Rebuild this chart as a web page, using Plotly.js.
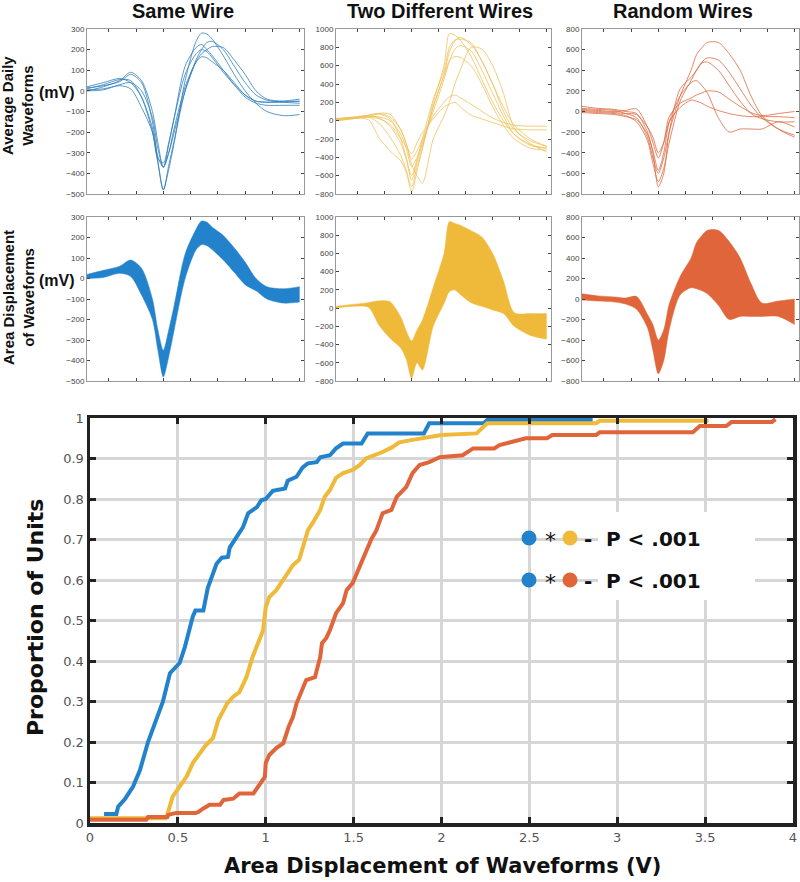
<!DOCTYPE html>
<html>
<head>
<meta charset="utf-8">
<script src="https://cdn.plot.ly/plotly-3.0.1.min.js"></script>
<style>
  body { margin: 0; background: white; }
  #fig { width: 800px; height: 882px; }
</style>
</head>
<body>
<div id="fig"></div>
<script>
// sample positions of the averaged waveforms
var wfX = [1, 4, 7, 9, 11, 13, 14, 15, 16, 17, 19, 21, 22, 23, 24, 26, 28, 30, 32, 34, 37, 40];

// Same Wire (mV)
var sameWire = [
  [10, 30, 55, 50, -30, -200, -350, -480, -380, -250, 50, 240, 280, 275, 250, 170, 80, 0, -60, -100, -120, -115],
  [0, 20, 50, 90, 50, -100, -250, -370, -300, -180, 20, 140, 165, 160, 140, 100, 40, -20, -50, -55, -55, -50],
  [15, 25, 45, 80, 40, -150, -340, -480, -360, -240, 0, 150, 200, 235, 240, 200, 120, 40, -20, -45, -55, -60],
  [20, 40, 60, 40, -30, -180, -320, -370, -260, -130, 120, 210, 225, 200, 170, 100, 30, -30, -60, -70, -70, -70],
  [5, 10, 25, 10, -80, -200, -330, -350, -250, -130, 80, 180, 200, 190, 160, 90, 30, -20, -50, -55, -50, -40],
  [0, 5, 30, 40, 0, -130, -280, -370, -300, -200, 0, 140, 180, 200, 215, 210, 150, 80, 0, -40, -50, -50]
];

// Two Different Wires (mV)
var twoWires = [
  [20, 30, 10, -190, -330, -440, -560, -770, -550, -300, 200, 600, 950, 930, 880, 700, 450, 200, 0, -150, -260, -300],
  [10, 30, 50, 40, 0, -150, -300, -500, -400, -250, 150, 500, 750, 870, 910, 830, 650, 400, 150, -50, -200, -280],
  [0, 20, 40, 80, 70, -100, -250, -480, -600, -680, -200, 50, 200, 400, 550, 800, 780, 600, 300, -80, -250, -340],
  [20, 35, 50, 30, -60, -250, -420, -650, -450, -250, 100, 450, 650, 780, 820, 760, 550, 300, 50, -150, -270, -300],
  [15, 30, 40, -30, -180, -380, -540, -720, -500, -300, 150, 500, 650, 700, 690, 600, 400, 150, -50, -200, -300, -320],
  [0, 20, 60, 80, 40, -100, -250, -420, -330, -200, 50, 200, 260, 280, 250, 180, 100, 30, -20, -50, -60, -60],
  [10, 25, 40, 20, -40, -200, -280, -360, -240, -130, 20, 150, 180, 200, 150, 60, 20, -20, -60, -90, -100, -100],
  [20, 40, 60, 70, 20, -200, -400, -600, -420, -200, 230, 550, 800, 880, 890, 850, 650, 400, 100, -100, -220, -280]
];

// Random Wires (mV)
var randomWires = [
  [30, 20, 10, -20, -60, -250, -450, -600, -450, -200, 150, 400, 550, 620, 670, 670, 560, 400, 150, -40, -170, -250],
  [0, -10, -20, -40, -100, -280, -500, -680, -550, -300, 100, 300, 400, 480, 520, 500, 380, 220, 60, -60, -170, -230],
  [50, 30, 20, 0, -20, -200, -400, -730, -600, -200, 220, 330, 400, 470, 480, 400, 250, 100, -20, -70, -100, -100],
  [-10, -20, -30, -50, -80, -220, -380, -570, -400, -100, 150, 280, 300, 250, 180, -60, -200, -170, -170, -170, -100, -150],
  [20, 10, 0, 10, 25, -150, -300, -450, -300, -50, 80, 130, 160, 180, 200, 190, 120, 50, -10, -40, -20, 0],
  [10, 0, -10, -20, -30, -150, -250, -400, -300, -100, 40, 110, 100, 80, 50, 10, -20, -40, -50, -50, -50, -60]
];

// cumulative distributions of area displacement (V)
var cdfSameX = [0.08, 0.15, 0.16, 0.2, 0.245, 0.284, 0.33, 0.38, 0.415, 0.455, 0.51, 0.54, 0.585, 0.6, 0.645, 0.67, 0.70, 0.72, 0.75, 0.785, 0.795, 0.835, 0.87, 0.9, 0.95, 0.975, 1.0, 1.04, 1.11, 1.125, 1.175, 1.21, 1.24, 1.29, 1.31, 1.365, 1.4, 1.44, 1.545, 1.58, 1.9, 1.93, 2.24, 2.26, 2.86];
var cdfSameY = [0.022, 0.022, 0.04, 0.06, 0.09, 0.13, 0.2, 0.26, 0.30, 0.37, 0.395, 0.435, 0.51, 0.525, 0.525, 0.58, 0.62, 0.64, 0.655, 0.657, 0.68, 0.705, 0.73, 0.765, 0.78, 0.797, 0.80, 0.82, 0.826, 0.845, 0.855, 0.878, 0.888, 0.891, 0.903, 0.908, 0.925, 0.937, 0.937, 0.962, 0.962, 0.987, 0.987, 0.995, 0.995];
var cdfTwoX = [0, 0.43, 0.44, 0.47, 0.51, 0.55, 0.585, 0.625, 0.655, 0.70, 0.73, 0.78, 0.815, 0.85, 0.89, 0.925, 0.965, 0.985, 1.0, 1.02, 1.06, 1.10, 1.135, 1.155, 1.19, 1.22, 1.24, 1.27, 1.31, 1.335, 1.365, 1.40, 1.44, 1.495, 1.535, 1.57, 1.665, 1.72, 1.76, 1.835, 1.95, 2.0, 2.2, 2.235, 2.26, 2.88, 2.9, 3.52];
var cdfTwoY = [0.012, 0.012, 0.02, 0.065, 0.09, 0.115, 0.148, 0.172, 0.19, 0.21, 0.254, 0.295, 0.312, 0.323, 0.36, 0.41, 0.45, 0.476, 0.533, 0.558, 0.575, 0.60, 0.625, 0.637, 0.65, 0.69, 0.723, 0.743, 0.773, 0.805, 0.822, 0.852, 0.864, 0.872, 0.884, 0.90, 0.916, 0.928, 0.94, 0.946, 0.953, 0.958, 0.962, 0.978, 0.987, 0.987, 0.993, 0.993];
var cdfRandX = [0, 0.32, 0.33, 0.44, 0.445, 0.49, 0.6, 0.615, 0.645, 0.68, 0.74, 0.76, 0.815, 0.85, 0.93, 0.955, 0.995, 1.0, 1.02, 1.06, 1.10, 1.13, 1.155, 1.175, 1.205, 1.23, 1.28, 1.31, 1.32, 1.345, 1.365, 1.40, 1.44, 1.46, 1.495, 1.535, 1.57, 1.60, 1.63, 1.665, 1.715, 1.745, 1.8, 1.835, 1.875, 1.93, 1.99, 2.12, 2.18, 2.3, 2.33, 2.39, 2.48, 2.6, 2.63, 2.88, 2.9, 3.43, 3.47, 3.62, 3.65, 3.88, 3.9];
var cdfRandY = [0.008, 0.008, 0.015, 0.015, 0.02, 0.025, 0.025, 0.027, 0.036, 0.045, 0.045, 0.057, 0.06, 0.073, 0.073, 0.089, 0.114, 0.148, 0.168, 0.185, 0.197, 0.237, 0.262, 0.295, 0.328, 0.353, 0.36, 0.41, 0.444, 0.457, 0.476, 0.518, 0.543, 0.575, 0.593, 0.632, 0.667, 0.70, 0.723, 0.765, 0.773, 0.805, 0.83, 0.864, 0.884, 0.891, 0.903, 0.908, 0.925, 0.925, 0.933, 0.94, 0.95, 0.95, 0.958, 0.958, 0.965, 0.965, 0.98, 0.98, 0.99, 0.99, 0.997];

var panelTitles = ['Same Wire', 'Two Different Wires', 'Random Wires'];
var blue = '#2382cc', yellow = '#efb93a', orange = '#e0653a';

// pixel -> paper helpers
function px(x) { return x / 800; }
function py(y) { return 1 - y / 882; }

var panels = [
  {data: sameWire, color: blue, thin: '#2f7fbc', range: [-500, 300], dtick: 100, col: [87, 304], title: 183},
  {data: twoWires, color: yellow, thin: '#efc15c', range: [-800, 1000], dtick: 200, col: [336, 551], title: 440},
  {data: randomWires, color: orange, thin: '#db6a40', range: [-800, 800], dtick: 200, col: [582, 799], title: 683}
];

var traces = [];
var layout = {
  width: 800, height: 882,
  margin: {l: 0, r: 0, t: 0, b: 0},
  paper_bgcolor: 'white', plot_bgcolor: 'white',
  showlegend: false,
  font: {family: 'Liberation Sans, Arial, sans-serif'},
  annotations: [], shapes: []
};

function smallX(dom, anchor) {
  return {domain: dom, anchor: anchor, range: [1, 40.8], tick0: 0, dtick: 5,
    showticklabels: false, ticks: 'inside', ticklen: 3, tickcolor: '#444',
    showline: true, linecolor: '#999', linewidth: 1, mirror: 'ticks',
    showgrid: false, zeroline: false};
}
function smallY(dom, anchor, p) {
  return {domain: dom, anchor: anchor, range: p.range, dtick: p.dtick,
    ticks: 'inside', ticklen: 3, tickcolor: '#444',
    tickfont: {size: 8, color: '#444', family: 'Liberation Sans, Arial'},
    showline: true, linecolor: '#999', linewidth: 1, mirror: 'ticks',
    showgrid: false, zeroline: false};
}

var rowTop = [py(194), py(29)];
var rowMid = [py(381), py(217)];

panels.forEach(function (p, i) {
  var nTop = i + 1, nMid = i + 4;
  var sfx = nTop === 1 ? '' : nTop;
  var xd = [px(p.col[0]), px(p.col[1])];
  layout['xaxis' + sfx] = smallX(xd, 'y' + sfx);
  layout['yaxis' + sfx] = smallY(rowTop, 'x' + sfx, p);
  layout['xaxis' + nMid] = smallX(xd, 'y' + nMid);
  layout['yaxis' + nMid] = smallY(rowMid, 'x' + nMid, p);

  // individual daily waveforms
  p.data.forEach(function (w) {
    traces.push({x: wfX, y: w, type: 'scatter', mode: 'lines',
      line: {color: p.thin, width: 0.8, shape: 'spline', smoothing: 0.8},
      xaxis: 'x' + sfx, yaxis: 'y' + sfx});
  });

  // envelope band of those waveforms
  var lo = wfX.map(function (_, k) { return Math.min.apply(null, p.data.map(function (r) { return r[k]; })); });
  var hi = wfX.map(function (_, k) { return Math.max.apply(null, p.data.map(function (r) { return r[k]; })); });
  traces.push({x: wfX, y: lo, type: 'scatter', mode: 'lines',
    line: {color: p.color, width: 0.5, shape: 'spline', smoothing: 0.8},
    xaxis: 'x' + nMid, yaxis: 'y' + nMid});
  traces.push({x: wfX, y: hi, type: 'scatter', mode: 'lines', fill: 'tonexty', fillcolor: p.color,
    line: {color: p.color, width: 0.5, shape: 'spline', smoothing: 0.8},
    xaxis: 'x' + nMid, yaxis: 'y' + nMid});

  layout.annotations.push({text: '<b>' + panelTitles[i] + '</b>', xref: 'paper', yref: 'paper',
    x: px(p.title), y: py(11), xanchor: 'center', yanchor: 'middle', showarrow: false,
    font: {size: 20, color: '#111', family: 'Liberation Sans, Arial'}});
});

// bottom CDF plot
layout.xaxis7 = {domain: [px(90), px(793)], anchor: 'y7', range: [0, 4], dtick: 0.5,
  ticks: 'inside', ticklen: 6, tickwidth: 3, tickcolor: '#222',
  showline: true, linecolor: '#222', linewidth: 3.5, mirror: 'ticks',
  showgrid: true, gridcolor: '#d6d6d6', gridwidth: 3, zeroline: false,
  tickfont: {family: 'DejaVu Sans', size: 13, color: '#555'}};
layout.yaxis7 = {domain: [py(823), py(418)], anchor: 'x7', range: [0, 1], dtick: 0.1,
  ticks: 'inside', ticklen: 6, tickwidth: 3, tickcolor: '#222',
  showline: true, linecolor: '#222', linewidth: 3.5, mirror: 'ticks',
  showgrid: true, gridcolor: '#d6d6d6', gridwidth: 3, zeroline: false,
  tickfont: {family: 'DejaVu Sans', size: 13, color: '#555'}};

[[cdfSameX, cdfSameY, blue], [cdfTwoX, cdfTwoY, yellow], [cdfRandX, cdfRandY, orange]].forEach(function (c) {
  traces.push({x: c[0], y: c[1], type: 'scatter', mode: 'lines',
    line: {color: c[2], width: 4}, xaxis: 'x7', yaxis: 'y7'});
});

// row labels
function label(text, x, y, size, angle) {
  layout.annotations.push({text: '<b>' + text + '</b>', xref: 'paper', yref: 'paper',
    x: px(x), y: py(y), xanchor: 'center', yanchor: 'middle', showarrow: false,
    textangle: angle || 0, font: {size: size, color: '#111', family: 'Liberation Sans, Arial'}});
}
label('Average Daily<br>Waveforms', 18, 106, 15, -90);
label('(mV)', 57, 92, 16);
label('Area Displacement<br>of Waveforms', 18, 298, 15, -90);
label('(mV)', 57, 280, 16);

layout.annotations.push({text: '<b>Proportion of Units</b>', xref: 'paper', yref: 'paper',
  x: px(35), y: py(618), xanchor: 'center', yanchor: 'middle', showarrow: false, textangle: -90,
  font: {size: 22, color: '#111', family: 'DejaVu Sans'}});
layout.annotations.push({text: '<b>Area Displacement of Waveforms (V)</b>', xref: 'paper', yref: 'paper',
  x: px(442), y: py(866), xanchor: 'center', yanchor: 'middle', showarrow: false,
  font: {size: 21, color: '#111', family: 'DejaVu Sans'}});

// significance key
layout.shapes.push({type: 'rect', xref: 'paper', yref: 'paper', x0: px(598), x1: px(755),
  y0: py(600), y1: py(512), fillcolor: 'white', line: {width: 0}, layer: 'above'});
[[538, yellow], [580, orange]].forEach(function (row) {
  var yc = row[0];
  [[529, blue], [570, row[1]]].forEach(function (c) {
    layout.shapes.push({type: 'circle', xref: 'paper', yref: 'paper',
      x0: px(c[0] - 7.5), x1: px(c[0] + 7.5), y0: py(yc + 7.5), y1: py(yc - 7.5),
      fillcolor: c[1], line: {width: 0}, layer: 'above'});
  });
  layout.annotations.push({text: '*', xref: 'paper', yref: 'paper', x: px(550), y: py(yc + 2),
    xanchor: 'center', yanchor: 'middle', showarrow: false,
    font: {size: 22, color: '#111', family: 'DejaVu Sans'}});
  layout.annotations.push({text: '<b>-</b>', xref: 'paper', yref: 'paper', x: px(588), y: py(yc + 1),
    xanchor: 'center', yanchor: 'middle', showarrow: false,
    font: {size: 20, color: '#111', family: 'DejaVu Sans'}});
  layout.annotations.push({text: '<b>P &lt; .001</b>', xref: 'paper', yref: 'paper', x: px(604), y: py(yc + 1),
    xanchor: 'left', yanchor: 'middle', showarrow: false,
    font: {size: 20, color: '#111', family: 'DejaVu Sans'}});
});

Plotly.newPlot('fig', traces, layout, {displayModeBar: false, staticPlot: true});
</script>
</body>
</html>
